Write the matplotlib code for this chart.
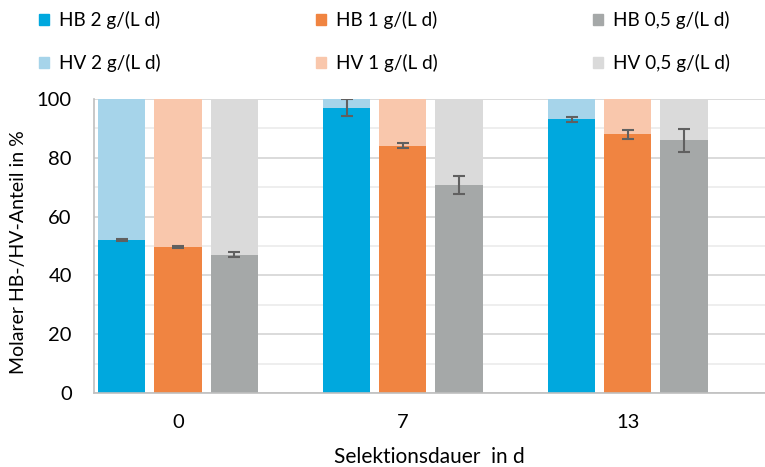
import numpy as np
import matplotlib
matplotlib.use("Agg")
import matplotlib.pyplot as plt
from matplotlib.patches import Patch

plt.rcParams['font.family'] = ['Lato', 'DejaVu Sans']

days = ['0', '7', '13']
rates = ['2 g/(L d)', '1 g/(L d)', '0,5 g/(L d)']

# HB share (mol-%) per loading rate, HV is the rest up to 100 %
hb_2 = [52.0, 97.0, 93.1]
hb_1 = [49.7, 84.1, 88.0]
hb_05 = [47.0, 70.7, 85.9]
err_2 = [0.3, 2.9, 0.9]
err_1 = [0.3, 0.8, 1.5]
err_05 = [0.8, 3.0, 3.9]

hb_colors = ['#00A8DE', '#F08441', '#A5A8A8']
hv_colors = ['#A6D4EA', '#F9C7AC', '#DADADA']

fig = plt.figure(figsize=(7.65, 4.67), dpi=100)
ax = fig.add_axes([0.1229, 0.1585, 0.8771, 0.6295])

x = np.arange(len(days))
width = 0.21
step = 0.25
series = [(hb_2, err_2), (hb_1, err_1), (hb_05, err_05)]

for i, (hb, err) in enumerate(series):
    hb = np.array(hb)
    pos = x + (i - 1) * step
    ax.bar(pos, hb, width, color=hb_colors[i], zorder=2)
    ax.bar(pos, 100 - hb, width, bottom=hb, color=hv_colors[i], zorder=2)
    ax.errorbar(pos, hb, yerr=err, fmt='none', ecolor='#606060',
                elinewidth=1.5, capsize=4, capthick=1.5, zorder=3)

ax.set_xlim(-0.373, 2.61)
ax.set_ylim(0, 100)
ax.set_yticks(range(0, 101, 20))
ax.set_yticks(range(10, 100, 20), minor=True)
ax.set_xticks(x)
ax.set_xticklabels(days)
ax.grid(axis='y', which='major', color='#D4D4D4', linewidth=1.2, zorder=0)
ax.grid(axis='y', which='minor', color='#EBEBEB', linewidth=1.2, zorder=0)
ax.set_axisbelow(True)

for side in ['top', 'right']:
    ax.spines[side].set_visible(False)
for side in ['left', 'bottom']:
    ax.spines[side].set_color('#BFBFBF')
    ax.spines[side].set_linewidth(1.2)

ax.tick_params(axis='both', which='both', length=0, colors='#000000')
ax.tick_params(axis='both', labelsize=14.5)
ax.tick_params(axis='x', pad=15)
ax.tick_params(axis='y', pad=16)
ax.set_xlabel('Selektionsdauer  in d', fontsize=15)
ax.xaxis.set_label_coords(0.5, -0.184)
ax.set_ylabel('Molarer HB-/HV-Anteil in %', fontsize=14)
ax.yaxis.set_label_coords(-0.0998, 0.48)

handles = []
for i, r in enumerate(rates):
    handles.append(Patch(color=hb_colors[i], label='HB ' + r))
    handles.append(Patch(color=hv_colors[i], label='HV ' + r))

fig.legend(handles=handles, ncol=3, loc='upper left',
           bbox_to_anchor=(0.0366, 1.0), frameon=False, fontsize=13.6,
           handlelength=0.53, handleheight=0.53, handletextpad=0.53,
           borderpad=0.1, columnspacing=8.2, labelspacing=1.3)

fig.savefig('out.png', dpi=100)
